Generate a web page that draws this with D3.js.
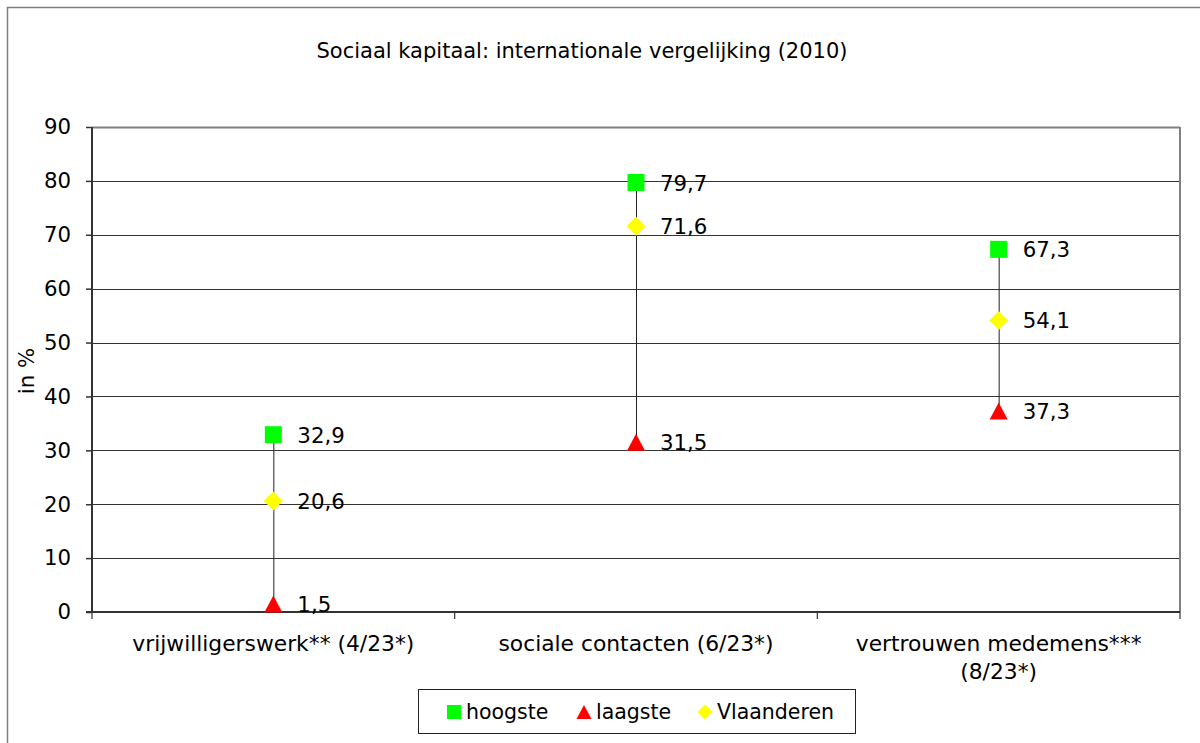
<!DOCTYPE html>
<html><head><meta charset="utf-8">
<script src="https://cdn.jsdelivr.net/npm/d3@7"></script>
<style>
body{margin:0;background:#fff;}
svg text{font-family:"DejaVu Sans",sans-serif;fill:#000;}
</style></head><body>
<svg id="c" width="1200" height="743"></svg>
<script>
const title = "Sociaal kapitaal: internationale vergelijking (2010)";
const categories = [["vrijwilligerswerk** (4/23*)"],["sociale contacten (6/23*)"],["vertrouwen medemens***","(8/23*)"]];
const hoogste = [32.9, 79.7, 67.3];
const laagste = [1.5, 31.5, 37.3];
const vlaanderen = [20.6, 71.6, 54.1];
const yTicks = [0,10,20,30,40,50,60,70,80,90];
const yLabel = "in %";
const legendNames = ["hoogste","laagste","Vlaanderen"];

const FS = 21.3, FSC = 21.8, FST = 21, FSL = 20.5;
const svg = d3.select("#c");
const fmt = v => String(v).replace(".", ",");
const L=92, R=1180, T=127, B=612;
svg.append("rect").attr("x",7.5).attr("y",7.5).attr("width",1250).attr("height",800).attr("fill","none").attr("stroke","#808080").attr("stroke-width",1.5);

const x = d3.scaleBand().domain(d3.range(categories.length)).range([L,R]).padding(0);
const y = d3.scaleLinear().domain([0,90]).range([B,T]);

// gridlines
svg.append("g").selectAll("line").data(yTicks.filter(d=>d>0)).join("line")
  .attr("x1",L).attr("x2",R).attr("y1",d=>Math.round(y(d))+0.5).attr("y2",d=>Math.round(y(d))+0.5)
  .attr("stroke",d=>d===90?"#808080":"#333").attr("stroke-width",d=>d===90?2:1);
svg.append("line").attr("x1",R).attr("x2",R).attr("y1",T).attr("y2",B).attr("stroke","#808080").attr("stroke-width",2);

// y axis
const ya = d3.axisLeft(y).tickValues(yTicks).tickSize(6).tickPadding(15);
const yg = svg.append("g").attr("transform",`translate(${L},0)`).call(ya);
yg.select(".domain").attr("stroke","#333").attr("stroke-width",2).attr("d",`M0,${T}V${B}`);
yg.selectAll(".tick line").attr("stroke","#333").attr("stroke-width",1.5);
yg.selectAll("text").attr("font-size",FS).style("font-family",null);

// x axis
const xg = svg.append("g").attr("transform",`translate(0,${B})`);
xg.append("line").attr("x1",L-6).attr("x2",R).attr("y1",0).attr("y2",0).attr("stroke","#333").attr("stroke-width",2);
const sep = d3.range(categories.length+1).map(i=> i<categories.length ? x(i) : x(categories.length-1)+x.bandwidth());
xg.selectAll("line.sep").data(sep).join("line").attr("class","sep")
  .attr("x1",d=>d).attr("x2",d=>d).attr("y1",0).attr("y2",7).attr("stroke","#333").attr("stroke-width",1.2);
const ct = xg.selectAll("text.cat").data(categories).join("text").attr("class","cat")
  .attr("x",(d,i)=>x(i)+x.bandwidth()/2).attr("y",39).attr("text-anchor","middle").attr("font-size",FSC);
ct.selectAll("tspan").data(d=>d).join("tspan").attr("x",function(){return this.parentNode.getAttribute("x");})
  .attr("dy",(d,i)=>i===0?0:28).text(d=>d);

// y title
svg.append("text").attr("transform","translate(34,371) rotate(-90)").attr("text-anchor","middle").attr("font-size",FS).text(yLabel);
// title
svg.append("text").attr("x",582).attr("y",58).attr("text-anchor","middle").attr("font-size",FST).text(title);

// hi-lo lines
const cx = i => x(i)+x.bandwidth()/2;
svg.append("g").selectAll("line").data(categories).join("line")
  .attr("x1",(d,i)=>cx(i)+0.5).attr("x2",(d,i)=>cx(i)+0.5)
  .attr("y1",(d,i)=>y(hoogste[i])).attr("y2",(d,i)=>y(laagste[i])).attr("stroke","#222").attr("stroke-width",1);

const sqP = s => `M${-s/2},${-s/2}H${s/2}V${s/2}H${-s/2}Z`;
const triP = (w,h) => `M0,${-h/2}L${w/2},${h/2}H${-w/2}Z`;
const diaP = w => `M0,${-w/2}L${w/2},0L0,${w/2}L${-w/2},0Z`;

function series(vals, path, color, dyLabel){
  const g = svg.append("g");
  g.selectAll("path").data(vals).join("path").attr("d",path)
    .attr("transform",(d,i)=>`translate(${cx(i)},${y(d)})`).attr("fill",color);
  g.selectAll("text").data(vals).join("text").attr("x",(d,i)=>cx(i)+24).attr("y",d=>y(d)+dyLabel)
    .attr("font-size",FS).text(fmt);
}
series(laagste, triP(18,17), "#ff0000", 8);
series(vlaanderen, diaP(19), "#ffff00", 8);
series(hoogste, sqP(17), "#00ff00", 8);

// legend
const lg = svg.append("g");
lg.append("rect").attr("x",418.5).attr("y",689.5).attr("width",437).attr("height",44).attr("fill","#fff").attr("stroke","#222").attr("stroke-width",1);
const lx = [454, 584, 705];
const paths = [sqP(14), triP(15,14), diaP(15)], cols = ["#00ff00","#ff0000","#ffff00"];
legendNames.forEach((n,i)=>{
  lg.append("path").attr("d", paths[i]).attr("transform",`translate(${lx[i]},${712})`).attr("fill",cols[i]);
  lg.append("text").attr("x",lx[i]+12).attr("y",719).attr("font-size",FSL).text(n);
});
</script></body></html>
